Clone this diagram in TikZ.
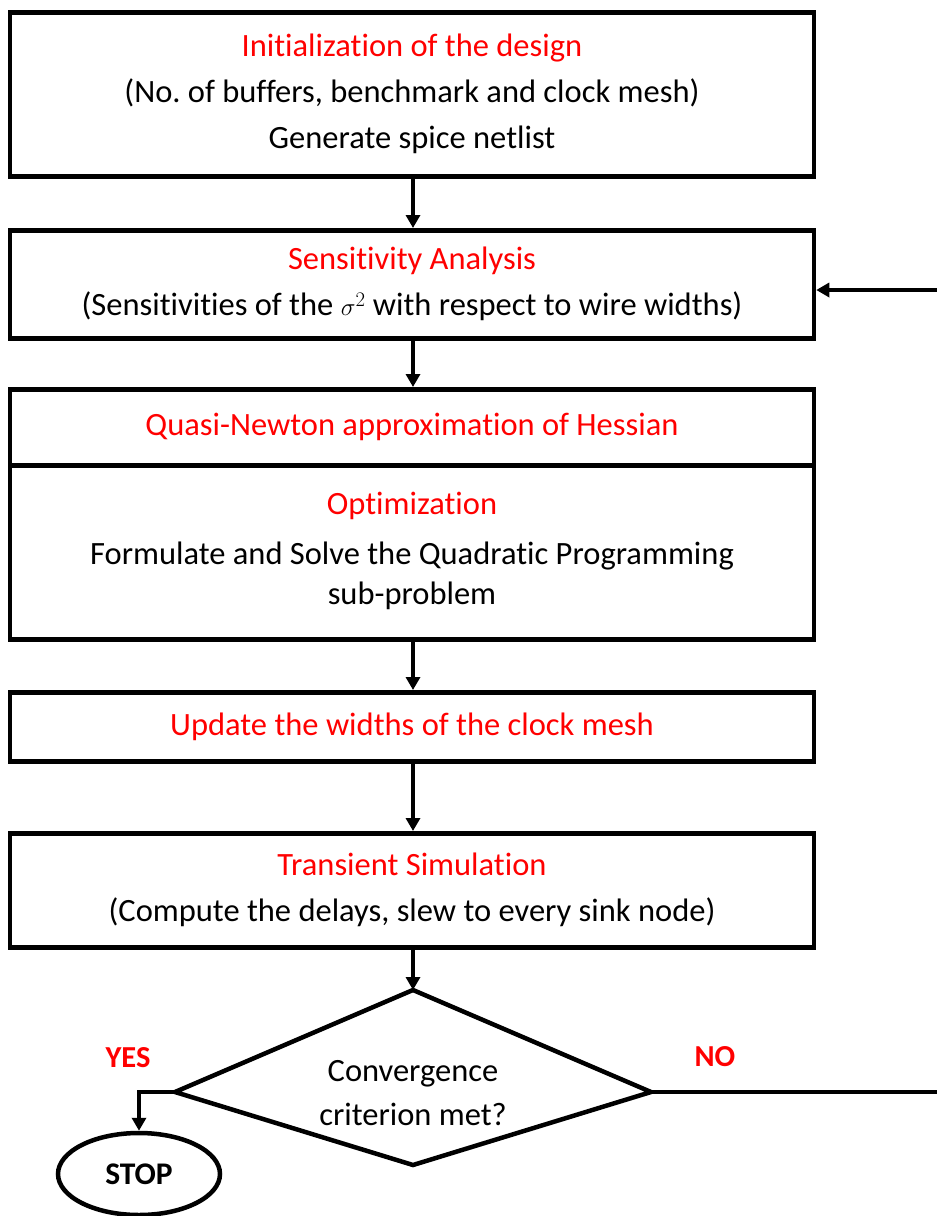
\documentclass[tikz,border=0pt]{standalone}
\usepackage{fontspec}
\setmainfont{Carlito}[Ligatures=NoCommon]
\usetikzlibrary{arrows.meta,shapes.geometric,calc}
\definecolor{redtxt}{RGB}{255,0,0}
\frenchspacing
\begin{document}
\begin{tikzpicture}[x=1pt,y=-1pt,
  every node/.style={font=\fontsize{32.5}{46}\selectfont},
  box/.style={draw,line width=4.5pt,minimum width=804pt,inner sep=0pt,align=center,anchor=north},
  conn/.style={line width=4.5pt,-{Triangle[length=13pt,width=14pt]}},
  line/.style={line width=4.5pt},
  lbl/.style={text=redtxt,font=\fontsize{30.5}{34}\selectfont\bfseries},
  red/.style={text=redtxt}
]
\useasboundingbox (0,0) rectangle (937,1216);
\node[box,minimum height=164pt] (b1) at (412,10)
  {\textcolor{redtxt}{Initialization of the design}\\(No. of buffers, benchmark and clock mesh)\\Generate spice netlist};
\node[box,minimum height=108pt] (b2) at (412,228)
  {\textcolor{redtxt}{Sensitivity Analysis}\\(Sensitivities of the $\sigma^{2}$ with respect to wire widths)};
\node[box,minimum height=76pt] (b3h) at (412,387)
  {\textcolor{redtxt}{Quasi-Newton approximation of Hessian}};
\node[box,minimum height=174pt,font=\fontsize{32.5}{40}\selectfont] (b3) at (412,463)
  {\textcolor{redtxt}{Optimization}\\[10pt]Formulate and Solve the Quadratic Programming\\sub-problem\\[-32pt]\mbox{}};
\node[box,minimum height=69pt] (b4) at (412,690)
  {\textcolor{redtxt}{Update the widths of the clock mesh}};
\node[box,minimum height=114pt] (b5) at (412,831)
  {\textcolor{redtxt}{Transient Simulation}\\(Compute the delays, slew to every sink node)};
% diamond
\coordinate (dt) at (413,990);
\coordinate (dl) at (175,1092);
\coordinate (dr) at (651,1092);
\coordinate (db) at (413,1165);
\draw[line,line join=miter] (dt) -- (dr) -- (db) -- (dl) -- cycle;
\node[align=center,font=\fontsize{32.5}{44}\selectfont] (dtext) at (413,1093) {Convergence\\criterion met?};
\node[draw,ellipse,line width=4.5pt,minimum width=162pt,minimum height=82pt,inner sep=0pt,font=\fontsize{31.5}{34}\selectfont\bfseries] (stop) at (139,1174) {STOP};
\node[lbl] (yes) at (128,1058) {YES};
\node[lbl] (no) at (715,1057) {NO};
% connectors
\draw[conn] (b1.south -| dt) -- (b2.north -| dt);
\draw[conn] (b2.south -| dt) -- (b3h.north -| dt);
\draw[conn] (b3.south -| dt) -- (b4.north -| dt);
\draw[conn] (b4.south -| dt) -- (b5.north -| dt);
\draw[conn] (b5.south -| dt) -- (dt);
\coordinate (fb) at (937,290);
\draw[conn] (fb) -- (fb -| b2.east);
\coordinate (noend) at (937,1092);
\draw[line] (dr) -- (noend);
\draw[conn] (dl) -| (stop.north);
\end{tikzpicture}
\end{document}
